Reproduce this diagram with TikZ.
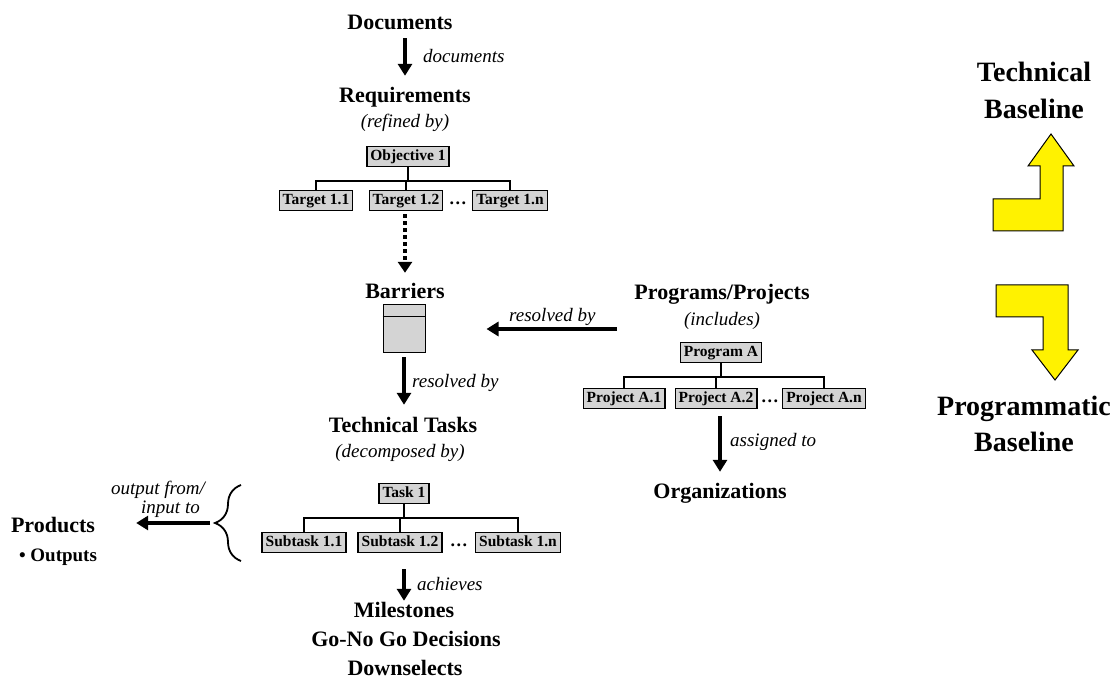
\documentclass[tikz,border=0pt]{standalone}
\usepackage{fontspec}
\setmainfont{Liberation Serif}
\usetikzlibrary{positioning,arrows.meta,trees,calc,decorations.pathreplacing}

\begin{document}
\begin{tikzpicture}[
x=1pt,y=-1pt,
heading/.style={font=\fontsize{22}{26}\selectfont\bfseries,inner sep=1pt,text height=15pt,text depth=5pt,anchor=base},
sidehead/.style={font=\fontsize{28}{32}\selectfont\bfseries,inner sep=1pt,anchor=base},
note/.style={font=\fontsize{19}{22}\selectfont\itshape,inner sep=1pt,anchor=base},
wbsbox/.style={draw,line width=1.4pt,fill=black!17,font=\fontsize{15.5}{18}\selectfont\bfseries,inner xsep=3.5pt,inner ysep=2.5pt,text height=11.5pt,text depth=3.5pt},
wbsdots/.style={font=\fontsize{18}{20}\selectfont\bfseries,inner sep=0pt,anchor=base},
wbstree/.style={every child node/.style={wbsbox},edge from parent/.style={draw,line width=1.5pt},
	edge from parent path={(\tikzparentnode.south) -- +(0pt,-14pt) -| (\tikzchildnode.north)}},
bigarrow/.style={line width=4.5pt,-{Triangle[width=14pt,length=12pt]}},
dotarrow/.style={line width=4pt,dash pattern=on 4pt off 3pt,-{Triangle[width=14pt,length=11pt]}},
turnarrow/.style={draw=black,line width=1pt,fill=yellow},
]
\useasboundingbox (0,0) rectangle (1117,684);

% technical side
\node[heading] (doc) at (400,30) {Documents};
\node[heading] (req) at (405,103) {Requirements};
\node[note] (refined) at (405,128) {(refined by)};
\node[wbsbox] (obj) at (408,156.5) {Objective 1} %root
	[wbstree,level distance=44pt,sibling distance=97pt]
	child[xshift=5pt]{node (tg1) {Target 1.1}}
	child[xshift=-2pt]{node (tg2) {Target 1.2}}
	child[xshift=5pt]{node (tgn) {Target 1.n}};
\node[wbsdots] (tgdots) at ($(tg2.base east)!0.5!(tgn.base west)$) {.\hspace{1.5pt}.\hspace{1.5pt}.};

\node[heading] (barriers) at (405,299) {Barriers};
\node[draw,line width=1pt,fill=black!17,minimum width=42pt,minimum height=48pt,inner sep=0pt] (barbox) at (404,329) {};
\draw[line width=1pt] ([yshift=-12pt]barbox.north west) -- ([yshift=-12pt]barbox.north east);

\node[heading] (techtasks) at (403,433) {Technical Tasks};
\node[note] (decomp) at (400,458) {(decomposed by)};
\node[wbsbox] (task) at (404,493.5) {Task 1}
	[wbstree,level distance=49pt,sibling distance=105pt]
	child[xshift=5pt]{node (st1) {Subtask 1.1}}
	child[xshift=-4pt]{node (st2) {Subtask 1.2}}
	child[xshift=9pt]{node (stn) {Subtask 1.n}};
\node[wbsdots] (stdots) at ($(st2.base east)!0.5!(stn.base west)$) {.\hspace{1.5pt}.\hspace{1.5pt}.};

\node[heading] (mile) at (404,617) {Milestones};
\node[heading] (gonogo) at (406,646) {Go-No Go Decisions};
\node[heading] (downsel) at (405,675) {Downselects};

% products
\node[heading] (products) at (53,532) {Products};
\node[heading,font=\fontsize{19}{22}\selectfont\bfseries] (outputs) at (58,561) {\textbullet\ Outputs};
\coordinate (brtop) at (241,485);
\coordinate (brbot) at (241,561);
\coordinate (brtip) at (212,523);
\draw[line width=1.8pt,decorate,decoration={brace,amplitude=26pt}] (brbot) -- (brtop);

% programmatic side
\node[heading] (progs) at (722,300) {Programs/Projects};
\node[note] (incl) at (722,326) {(includes)};
\node[wbsbox] (proga) at (721,352.5) {Program A}
	[wbstree,level distance=46pt,sibling distance=100pt]
	child[xshift=3pt]{node (pa1) {Project A.1}}
	child[xshift=-5pt]{node (pa2) {Project A.2}}
	child[xshift=3pt]{node (pan) {Project A.n}};
\node[wbsdots] (padots) at ($(pa2.base east)!0.5!(pan.base west)$) {.\hspace{1.5pt}.\hspace{1.5pt}.};
\node[heading] (org) at (720,499) {Organizations};

% connectors
\draw[bigarrow,shorten <=2pt,shorten >=11pt] (req.north |- doc.south) -- (req.north);
\node[note,anchor=base west] (lbdoc) at (422,63) {documents};
\draw[dotarrow,shorten <=3pt,shorten >=10pt] (barriers.north |- tg2.south) -- (barriers.north);
\draw[bigarrow,shorten <=16pt,shorten >=61pt] (progs.west |- barbox.east) -- (barbox.east);
\node[note,anchor=base west] (lbres1) at (508,322) {resolved by};
\draw[bigarrow,shorten <=4pt,shorten >=12pt] (barbox.south) -- (barbox.south |- techtasks.north);
\node[note,anchor=base west] (lbres2) at (411,388) {resolved by};
\draw[bigarrow,shorten <=16pt] (mile.north |- st2.south) -- (mile.north);
\node[note,anchor=base west] (lbach) at (416,590) {achieves};
\draw[bigarrow,shorten <=7pt,shorten >=11pt] (pa2.south -| org.north) -- (org.north);
\node[note,anchor=base west] (lbassign) at (729,447) {assigned to};
\draw[bigarrow,shorten <=2pt,shorten >=40pt] (brtip) -- (brtip -| products.east);
\node[note,anchor=base east] (lbout) at (206,494) {output from/};
\node[note,anchor=base east] (lbin) at (201,514) {input to};

% baselines
\node[sidehead] (techA) at (1034,82) {Technical};
\node[sidehead] (techB) at (1034,119) {Baseline};
\draw[turnarrow] (993,199) -- (1040,199) -- (1040,166) -- (1028,166) -- (1051,134) -- (1074,166)
	-- (1063,166) -- (1063,231) -- (993,231) -- cycle;
\draw[turnarrow] (996,285) -- (1068,285) -- (1068,350) -- (1078,350) -- (1055,380) -- (1032,350)
	-- (1043,350) -- (1043,317) -- (996,317) -- cycle;
\node[sidehead] (progmA) at (1024,416) {Programmatic};
\node[sidehead] (progmB) at (1024,452) {Baseline};
\end{tikzpicture}
\end{document}
